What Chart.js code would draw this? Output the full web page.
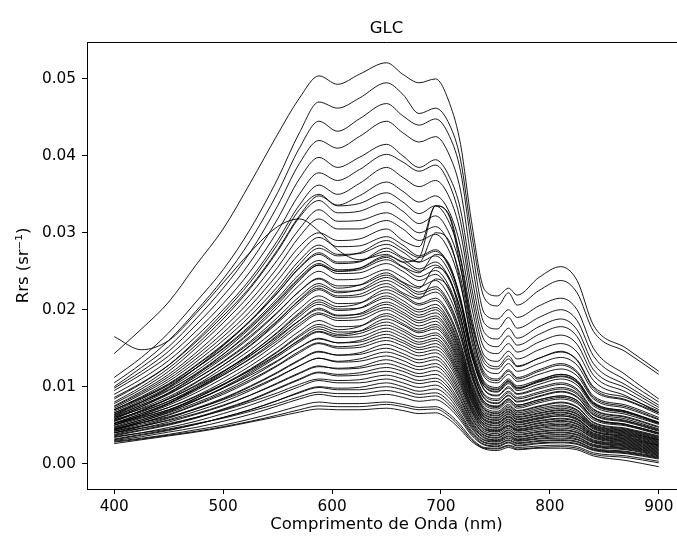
<!DOCTYPE html>
<html>
<head>
<meta charset="utf-8">
<script src="https://cdn.jsdelivr.net/npm/chart.js@4.4.1/dist/chart.umd.min.js"></script>
<style>
  html, body { margin: 0; padding: 0; background: #fff; overflow: hidden; }
  #wrap { width: 677px; height: 541px; overflow: hidden; }
</style>
</head>
<body>
<div id="wrap"><canvas id="glc-chart" width="700" height="541"></canvas></div>
<script>
const wavelengths = [400, 425, 450, 475, 500, 525, 550, 570, 588, 605, 625, 650, 665, 680,
    695, 708, 718, 728, 740, 752, 762, 770, 790, 810, 825, 840, 870, 900];
const xTicks = [400, 500, 600, 700, 800, 900];
const yTicks = [0, 0.01, 0.02, 0.03, 0.04, 0.05];

// Rrs spectra (sr^-1), one array per sample
const rrs01 = [.0143,.0175,.0210,.0258,.0305,.0365,.0428,.0475,.0504,.0493,.0506,.0521,.0506,.0495,.0500,.0468,.0415,.0315,.0226,.0218,.0228,.0219,.0242,.0256,.0238,.0180,.0150,.0120];
const rrs02 = [.0112,.0138,.0170,.0210,.0252,.0305,.0370,.0430,.0470,.0462,.0475,.0495,.0480,.0455,.0462,.0440,.0395,.0300,.0215,.0205,.0222,.0206,.0225,.0238,.0222,.0172,.0145,.0116];
const rrs03 = [.0105,.0130,.0160,.0198,.0240,.0290,.0352,.0410,.0445,.0432,.0448,.0468,.0452,.0440,.0448,.0425,.0380,.0285,.0195,.0188,.0200,.0190,.0205,.0215,.0200,.0150,.0115,.0084];
const rrs04 = [.0100,.0125,.0152,.0188,.0228,.0275,.0335,.0390,.0420,.0410,.0425,.0445,.0430,.0418,.0425,.0400,.0355,.0265,.0182,.0175,.0190,.0176,.0190,.0200,.0186,.0140,.0108,.0080];
const rrs05 = [.0098,.0120,.0146,.0180,.0218,.0262,.0318,.0370,.0398,.0385,.0398,.0415,.0400,.0385,.0395,.0372,.0330,.0245,.0170,.0162,.0176,.0163,.0178,.0188,.0174,.0130,.0102,.0076];
const rrs06 = [.0095,.0116,.0140,.0172,.0208,.0250,.0302,.0350,.0378,.0368,.0382,.0402,.0392,.0380,.0388,.0362,.0315,.0230,.0160,.0152,.0166,.0154,.0168,.0178,.0165,.0122,.0098,.0073];
const rrs07 = [.0090,.0110,.0134,.0165,.0200,.0240,.0290,.0336,.0362,.0350,.0364,.0385,.0372,.0360,.0368,.0345,.0300,.0218,.0150,.0143,.0156,.0145,.0158,.0167,.0155,.0115,.0093,.0070];
const rrs08 = [.0086,.0105,.0128,.0158,.0192,.0230,.0278,.0322,.0348,.0336,.0348,.0366,.0354,.0340,.0348,.0326,.0282,.0205,.0140,.0133,.0146,.0136,.0148,.0156,.0145,.0108,.0088,.0066];
const rrs09 = [.0084,.0104,.0128,.0160,.0196,.0236,.0285,.0330,.0350,.0335,.0338,.0352,.0340,.0325,.0335,.0312,.0268,.0192,.0130,.0123,.0136,.0126,.0137,.0145,.0135,.0100,.0086,.0068];
const rrs10 = [.0080,.0100,.0124,.0154,.0188,.0228,.0276,.0320,.0342,.0326,.0328,.0340,.0328,.0312,.0322,.0298,.0255,.0182,.0124,.0117,.0130,.0120,.0130,.0138,.0128,.0095,.0082,.0064];
const rrs11 = [.0078,.0097,.0120,.0150,.0183,.0220,.0265,.0305,.0330,.0315,.0316,.0326,.0315,.0300,.0308,.0285,.0242,.0172,.0118,.0110,.0122,.0112,.0122,.0130,.0120,.0088,.0076,.0060];
const rrs12 = [.0075,.0094,.0116,.0144,.0176,.0212,.0255,.0295,.0318,.0305,.0305,.0316,.0305,.0290,.0298,.0275,.0232,.0165,.0112,.0105,.0116,.0107,.0116,.0123,.0114,.0084,.0072,.0057];
const rrs13 = [.0074,.0092,.0113,.0140,.0170,.0205,.0246,.0282,.0300,.0290,.0292,.0305,.0290,.0282,.0335,.0320,.0255,.0175,.0115,.0108,.0120,.0110,.0120,.0128,.0118,.0086,.0074,.0058];
const rrs14 = [.0072,.0090,.0110,.0136,.0165,.0198,.0238,.0273,.0294,.0282,.0283,.0295,.0284,.0270,.0278,.0256,.0215,.0152,.0104,.0097,.0108,.0099,.0107,.0114,.0106,.0078,.0067,.0053];
const rrs15 = [.0070,.0087,.0107,.0132,.0160,.0192,.0230,.0264,.0284,.0272,.0273,.0285,.0275,.0262,.0270,.0248,.0208,.0146,.0100,.0093,.0104,.0095,.0103,.0110,.0102,.0075,.0064,.0051];
const rrs16 = [.0068,.0084,.0103,.0127,.0154,.0185,.0222,.0255,.0274,.0262,.0263,.0276,.0266,.0253,.0262,.0240,.0200,.0140,.0096,.0089,.0100,.0091,.0099,.0105,.0097,.0071,.0061,.0048];
const rrs17 = [.0066,.0082,.0100,.0124,.0150,.0180,.0215,.0246,.0264,.0252,.0254,.0268,.0256,.0248,.0272,.0258,.0212,.0145,.0095,.0088,.0098,.0090,.0097,.0103,.0095,.0070,.0060,.0047];
const rrs18 = [.0064,.0080,.0098,.0120,.0146,.0176,.0210,.0240,.0258,.0247,.0248,.0260,.0250,.0238,.0246,.0224,.0186,.0130,.0088,.0082,.0092,.0084,.0091,.0097,.0090,.0066,.0056,.0044];
const rrs19 = [.0063,.0078,.0095,.0117,.0142,.0170,.0203,.0232,.0250,.0239,.0240,.0252,.0242,.0230,.0238,.0216,.0178,.0124,.0084,.0078,.0088,.0080,.0087,.0093,.0086,.0063,.0054,.0042];
const rrs20 = [.0061,.0076,.0092,.0113,.0137,.0164,.0196,.0224,.0241,.0231,.0232,.0245,.0235,.0223,.0230,.0208,.0171,.0118,.0080,.0074,.0084,.0076,.0083,.0088,.0082,.0060,.0051,.0040];
const rrs21 = [.0060,.0074,.0090,.0110,.0133,.0159,.0190,.0217,.0234,.0224,.0225,.0238,.0228,.0216,.0223,.0201,.0164,.0113,.0076,.0071,.0080,.0072,.0079,.0084,.0078,.0057,.0049,.0038];
const rrs22 = [.0058,.0072,.0087,.0106,.0128,.0153,.0183,.0209,.0226,.0216,.0217,.0230,.0220,.0208,.0215,.0193,.0157,.0108,.0073,.0068,.0077,.0069,.0075,.0080,.0074,.0054,.0046,.0036];
const rrs23 = [.0056,.0069,.0084,.0102,.0124,.0148,.0176,.0201,.0218,.0208,.0209,.0222,.0212,.0200,.0207,.0185,.0150,.0103,.0070,.0065,.0073,.0066,.0072,.0076,.0070,.0051,.0044,.0034];
const rrs24 = [.0055,.0067,.0081,.0099,.0120,.0143,.0170,.0194,.0210,.0201,.0202,.0215,.0205,.0193,.0200,.0178,.0144,.0098,.0066,.0062,.0070,.0063,.0068,.0072,.0067,.0049,.0042,.0032];
const rrs25 = [.0053,.0065,.0078,.0095,.0115,.0137,.0163,.0186,.0202,.0193,.0194,.0207,.0197,.0186,.0192,.0171,.0138,.0094,.0063,.0059,.0067,.0060,.0065,.0069,.0064,.0047,.0040,.0031];
const rrs26 = [.0052,.0063,.0076,.0092,.0111,.0132,.0157,.0179,.0194,.0186,.0187,.0200,.0190,.0179,.0185,.0164,.0132,.0090,.0060,.0056,.0064,.0057,.0062,.0066,.0061,.0045,.0038,.0029];
const rrs27 = [.0050,.0061,.0073,.0088,.0106,.0127,.0151,.0172,.0186,.0178,.0179,.0192,.0182,.0172,.0178,.0158,.0126,.0086,.0057,.0053,.0061,.0054,.0059,.0062,.0058,.0042,.0036,.0027];
const rrs28 = [.0048,.0059,.0070,.0085,.0102,.0122,.0145,.0165,.0178,.0171,.0172,.0184,.0175,.0165,.0170,.0151,.0120,.0082,.0054,.0050,.0058,.0051,.0056,.0059,.0055,.0040,.0034,.0025];
const rrs29 = [.0047,.0057,.0068,.0082,.0098,.0117,.0139,.0158,.0171,.0164,.0165,.0176,.0168,.0158,.0163,.0144,.0114,.0077,.0051,.0047,.0055,.0048,.0053,.0056,.0052,.0038,.0032,.0024];
const rrs30 = [.0045,.0055,.0066,.0079,.0094,.0112,.0133,.0151,.0163,.0157,.0158,.0168,.0160,.0151,.0156,.0138,.0109,.0073,.0048,.0044,.0052,.0045,.0050,.0053,.0049,.0036,.0030,.0022];
const rrs31 = [.0044,.0053,.0063,.0076,.0090,.0107,.0127,.0144,.0156,.0150,.0151,.0160,.0153,.0144,.0148,.0131,.0103,.0069,.0045,.0042,.0049,.0043,.0047,.0050,.0046,.0034,.0028,.0020];
const rrs32 = [.0042,.0051,.0060,.0072,.0085,.0101,.0119,.0135,.0146,.0141,.0142,.0150,.0143,.0135,.0139,.0122,.0096,.0064,.0042,.0039,.0046,.0040,.0044,.0046,.0043,.0031,.0026,.0018];
const rrs33 = [.0040,.0048,.0057,.0068,.0080,.0095,.0112,.0127,.0137,.0132,.0133,.0140,.0134,.0126,.0130,.0114,.0089,.0059,.0039,.0036,.0043,.0037,.0041,.0043,.0040,.0029,.0024,.0016];
const rrs34 = [.0038,.0046,.0054,.0064,.0075,.0089,.0105,.0118,.0127,.0123,.0124,.0130,.0124,.0117,.0121,.0106,.0082,.0054,.0036,.0033,.0040,.0034,.0038,.0040,.0037,.0027,.0022,.0014];
const rrs35 = [.0036,.0043,.0050,.0059,.0070,.0082,.0097,.0109,.0118,.0114,.0115,.0120,.0115,.0108,.0111,.0097,.0075,.0050,.0033,.0030,.0036,.0031,.0035,.0036,.0034,.0024,.0020,.0012];
const rrs36 = [.0034,.0040,.0047,.0055,.0065,.0076,.0089,.0100,.0108,.0105,.0105,.0110,.0105,.0099,.0102,.0089,.0069,.0046,.0030,.0028,.0033,.0029,.0032,.0033,.0031,.0022,.0018,.0010];
const rrs37 = [.0032,.0038,.0044,.0051,.0060,.0070,.0082,.0092,.0099,.0096,.0096,.0100,.0096,.0090,.0092,.0080,.0062,.0041,.0027,.0025,.0030,.0026,.0029,.0030,.0028,.0019,.0015,.0008];
const rrs38 = [.0030,.0035,.0041,.0047,.0055,.0064,.0075,.0084,.0090,.0087,.0087,.0090,.0086,.0081,.0083,.0072,.0056,.0037,.0024,.0022,.0027,.0023,.0026,.0027,.0025,.0017,.0013,.0006];
const rrs39 = [.0029,.0033,.0038,.0044,.0050,.0058,.0067,.0075,.0080,.0078,.0078,.0080,.0077,.0073,.0074,.0064,.0050,.0033,.0021,.0020,.0024,.0021,.0023,.0024,.0022,.0014,.0010,.0003];
const rrs40 = [.0026,.0031,.0036,.0041,.0047,.0054,.0061,.0067,.0071,.0070,.0070,.0072,.0069,.0065,.0066,.0057,.0044,.0029,.0019,.0017,.0021,.0018,.0020,.0020,.0018,.0010,.0004,-.0004];
const rrs41 = [.0058,.0074,.0092,.0115,.0142,.0172,.0207,.0238,.0258,.0250,.0254,.0270,.0262,.0250,.0258,.0238,.0200,.0142,.0100,.0094,.0106,.0097,.0108,.0116,.0108,.0080,.0068,.0054];
const rrs42 = [.0066,.0080,.0096,.0116,.0139,.0166,.0197,.0224,.0240,.0228,.0232,.0248,.0236,.0228,.0255,.0240,.0192,.0128,.0085,.0079,.0089,.0081,.0088,.0094,.0087,.0064,.0055,.0043];
const rrs43 = [.0050,.0063,.0078,.0097,.0119,.0143,.0171,.0196,.0213,.0204,.0208,.0226,.0217,.0206,.0212,.0190,.0154,.0105,.0071,.0066,.0075,.0068,.0074,.0079,.0073,.0053,.0045,.0035];
const rrs44 = [.0060,.0071,.0084,.0101,.0120,.0141,.0165,.0186,.0200,.0192,.0195,.0210,.0201,.0190,.0196,.0175,.0141,.0096,.0064,.0060,.0068,.0061,.0066,.0070,.0065,.0048,.0041,.0031];
const rrs45 = [.0044,.0055,.0067,.0082,.0099,.0119,.0141,.0161,.0175,.0168,.0172,.0188,.0180,.0170,.0175,.0155,.0123,.0084,.0056,.0052,.0060,.0053,.0058,.0062,.0057,.0042,.0035,.0026];
const rrs46 = [.0050,.0060,.0070,.0083,.0098,.0115,.0134,.0151,.0162,.0157,.0160,.0172,.0164,.0155,.0160,.0141,.0112,.0075,.0050,.0046,.0054,.0047,.0052,.0055,.0051,.0037,.0031,.0023];
const rrs47 = [.0040,.0049,.0059,.0071,.0084,.0100,.0118,.0134,.0145,.0141,.0144,.0155,.0148,.0140,.0144,.0127,.0100,.0067,.0044,.0041,.0048,.0042,.0046,.0048,.0045,.0033,.0027,.0019];
const rrs48 = [.0042,.0049,.0056,.0065,.0076,.0089,.0104,.0117,.0126,.0124,.0126,.0135,.0129,.0122,.0126,.0110,.0085,.0056,.0037,.0034,.0041,.0035,.0039,.0041,.0038,.0028,.0023,.0015];
const rrs49 = [.0070,.0086,.0104,.0128,.0155,.0186,.0222,.0254,.0272,.0260,.0262,.0280,.0268,.0262,.0300,.0288,.0235,.0160,.0106,.0099,.0110,.0101,.0109,.0116,.0108,.0079,.0068,.0053];
const rrs50 = [.0165,.0148,.0160,.0195,.0235,.0275,.0308,.0318,.0302,.0278,.0265,.0272,.0262,.0268,.0335,.0322,.0265,.0185,.0135,.0126,.0140,.0127,.0137,.0146,.0134,.0098,.0083,.0066];
const rrs51 = [.0064,.0080,.0099,.0124,.0153,.0186,.0225,.0259,.0280,.0270,.0274,.0290,.0279,.0268,.0276,.0254,.0212,.0150,.0102,.0096,.0107,.0098,.0106,.0113,.0105,.0077,.0066,.0052];
const rrs52 = [.0070,.0085,.0102,.0124,.0149,.0178,.0212,.0242,.0260,.0250,.0252,.0265,.0255,.0243,.0251,.0229,.0190,.0133,.0090,.0084,.0094,.0086,.0093,.0099,.0092,.0068,.0058,.0045];
const rrs53 = [.0055,.0069,.0085,.0105,.0128,.0154,.0185,.0213,.0231,.0222,.0226,.0242,.0232,.0220,.0227,.0205,.0168,.0116,.0078,.0073,.0082,.0074,.0081,.0086,.0080,.0059,.0050,.0039];
const rrs54 = [.0062,.0076,.0091,.0110,.0132,.0157,.0186,.0212,.0228,.0218,.0220,.0234,.0222,.0214,.0240,.0226,.0180,.0120,.0080,.0075,.0084,.0076,.0083,.0088,.0082,.0060,.0051,.0040];
const rrs55 = [.0052,.0065,.0079,.0097,.0117,.0140,.0167,.0191,.0207,.0199,.0202,.0218,.0208,.0197,.0203,.0182,.0147,.0100,.0068,.0063,.0071,.0064,.0070,.0074,.0069,.0050,.0043,.0033];
const rrs56 = [.0057,.0068,.0081,.0097,.0115,.0136,.0160,.0182,.0196,.0189,.0191,.0203,.0194,.0183,.0189,.0168,.0135,.0092,.0061,.0057,.0065,.0058,.0063,.0067,.0062,.0046,.0039,.0030];
const rrs57 = [.0046,.0057,.0069,.0085,.0103,.0123,.0146,.0167,.0181,.0174,.0178,.0195,.0186,.0175,.0181,.0161,.0129,.0088,.0058,.0054,.0062,.0055,.0060,.0064,.0059,.0043,.0037,.0028];
const rrs58 = [.0052,.0062,.0073,.0087,.0103,.0121,.0142,.0160,.0172,.0166,.0169,.0180,.0172,.0162,.0167,.0148,.0117,.0080,.0053,.0049,.0057,.0050,.0055,.0058,.0054,.0039,.0033,.0024];
const rrs59 = [.0043,.0053,.0064,.0077,.0092,.0109,.0128,.0146,.0157,.0152,.0154,.0164,.0157,.0148,.0152,.0135,.0106,.0071,.0047,.0043,.0050,.0044,.0049,.0051,.0048,.0035,.0029,.0021];
const rrs60 = [.0045,.0053,.0061,.0071,.0083,.0097,.0113,.0127,.0137,.0133,.0136,.0145,.0139,.0131,.0135,.0118,.0092,.0061,.0040,.0037,.0044,.0038,.0042,.0044,.0041,.0030,.0025,.0017];
const rrs61 = [.0037,.0044,.0051,.0060,.0071,.0083,.0098,.0110,.0119,.0116,.0118,.0125,.0120,.0113,.0116,.0101,.0078,.0052,.0034,.0031,.0038,.0032,.0036,.0038,.0035,.0025,.0021,.0013];
const rrs62 = [.0040,.0046,.0052,.0060,.0069,.0080,.0092,.0103,.0110,.0108,.0109,.0115,.0110,.0104,.0107,.0093,.0072,.0048,.0031,.0029,.0035,.0030,.0033,.0035,.0032,.0023,.0019,.0011];
const rrs63 = [.0031,.0037,.0043,.0051,.0060,.0070,.0082,.0093,.0100,.0098,.0099,.0105,.0100,.0094,.0097,.0085,.0065,.0043,.0028,.0026,.0031,.0027,.0030,.0031,.0029,.0020,.0016,.0009];
const rrs64 = [.0035,.0040,.0045,.0052,.0059,.0068,.0078,.0087,.0093,.0091,.0091,.0095,.0091,.0086,.0088,.0076,.0059,.0039,.0025,.0023,.0028,.0024,.0027,.0028,.0026,.0018,.0014,.0007];
const rrs65 = [.0028,.0032,.0037,.0042,.0048,.0055,.0063,.0070,.0075,.0074,.0074,.0077,.0074,.0070,.0071,.0061,.0047,.0031,.0020,.0019,.0023,.0019,.0021,.0022,.0020,.0012,.0008,.0001];

const spectra = [rrs01, rrs02, rrs03, rrs04, rrs05, rrs06, rrs07, rrs08, rrs09, rrs10,
    rrs11, rrs12, rrs13, rrs14, rrs15, rrs16, rrs17, rrs18, rrs19, rrs20,
    rrs21, rrs22, rrs23, rrs24, rrs25, rrs26, rrs27, rrs28, rrs29, rrs30,
    rrs31, rrs32, rrs33, rrs34, rrs35, rrs36, rrs37, rrs38, rrs39, rrs40,
    rrs41, rrs42, rrs43, rrs44, rrs45, rrs46, rrs47, rrs48, rrs49, rrs50,
    rrs51, rrs52, rrs53, rrs54, rrs55, rrs56, rrs57, rrs58, rrs59, rrs60,
    rrs61, rrs62, rrs63, rrs64, rrs65];

const FONT = "DejaVu Sans";

// matplotlib-style box: top/right spines and the axes title centred on the plot
const axesBox = {
    id: "axesBox",
    afterDraw(chart) {
        const { ctx, chartArea } = chart;
        ctx.save();
        ctx.strokeStyle = "#000";
        ctx.lineWidth = 1;
        ctx.beginPath();
        ctx.moveTo(chartArea.left, Math.round(chartArea.top) + 0.5);
        ctx.lineTo(chartArea.right, Math.round(chartArea.top) + 0.5);
        ctx.moveTo(Math.round(chartArea.right) - 0.5, chartArea.top);
        ctx.lineTo(Math.round(chartArea.right) - 0.5, chartArea.bottom);
        ctx.stroke();
        ctx.fillStyle = "#000";
        ctx.font = "16.5px '" + FONT + "'";
        ctx.textAlign = "center";
        ctx.textBaseline = "alphabetic";
        ctx.fillText("GLC", (chartArea.left + chartArea.right) / 2, 33);
        ctx.restore();
    },
};

const glcContext = document.getElementById("glc-chart");

const glcData = {
    datasets: spectra.map((values) => ({
        data: values.map((v, i) => ({ x: wavelengths[i], y: v })),
        borderColor: "rgba(0, 0, 0, 0.9)",
        borderWidth: 1,
        pointRadius: 0,
        fill: false,
        cubicInterpolationMode: "monotone",
    })),
};

const glcConfig = {
    type: "line",
    data: glcData,
    options: {
        responsive: false,
        animation: false,
        devicePixelRatio: 1,
        layout: { padding: { left: 0, right: 14, top: 42, bottom: 0 } },
        plugins: {
            legend: { display: false },
            tooltip: { enabled: false },
        },
        scales: {
            x: {
                type: "linear",
                min: 375,
                max: 925,
                afterBuildTicks: (axis) => {
                    axis.ticks = xTicks.map((v) => ({ value: v }));
                },
                afterFit: (scale) => {
                    scale.height = 52;
                },
                grid: { drawOnChartArea: false, drawTicks: true, tickLength: 5, tickColor: "#000", tickWidth: 1 },
                border: { display: true, color: "#000", width: 1 },
                ticks: { color: "#000", font: { family: FONT, size: 15.3 }, padding: 4, maxRotation: 0 },
                title: {
                    display: true,
                    text: "Comprimento de Onda (nm)",
                    color: "#000",
                    font: { family: FONT, size: 16.5 },
                    padding: { top: 0, bottom: 6 },
                },
            },
            y: {
                type: "linear",
                min: -0.0033,
                max: 0.0548,
                afterBuildTicks: (axis) => {
                    axis.ticks = yTicks.map((v) => ({ value: v }));
                },
                afterFit: (scale) => {
                    scale.width = 87;
                },
                grid: { drawOnChartArea: false, drawTicks: true, tickLength: 5, tickColor: "#000", tickWidth: 1 },
                border: { display: true, color: "#000", width: 1 },
                ticks: {
                    color: "#000",
                    font: { family: FONT, size: 15.3 },
                    padding: 6,
                    callback: (v) => v.toFixed(2),
                },
                title: {
                    display: true,
                    text: "Rrs (sr⁻¹)",
                    color: "#000",
                    font: { family: FONT, size: 16.5 },
                    padding: { top: 14, bottom: 0 },
                },
            },
        },
    },
    plugins: [axesBox],
};

const glcChart = new Chart(glcContext, glcConfig);
</script>
</body>
</html>
